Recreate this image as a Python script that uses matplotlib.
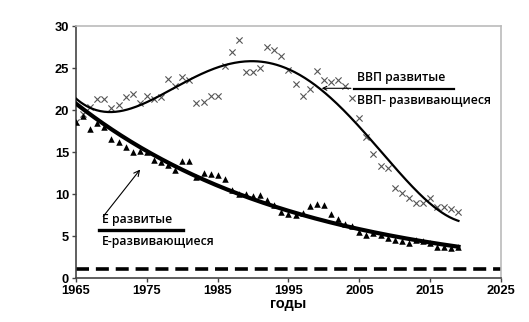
import numpy as np
import matplotlib
matplotlib.use("Agg")
import matplotlib.pyplot as plt

years = np.arange(1965, 2020)

# ratio of GDP: developed / developing
gdp_ratio = [18.6, 19.5, 20.4, 21.3, 21.3, 20.3, 20.6, 21.6, 21.9, 20.8,
             21.7, 21.3, 21.6, 23.7, 22.9, 24.0, 23.6, 20.9, 21.0, 21.7,
             21.7, 25.2, 26.9, 28.3, 24.5, 24.5, 25.0, 27.5, 27.1, 26.5,
             24.8, 23.1, 21.7, 22.5, 24.7, 23.6, 23.4, 23.6, 22.9, 21.5,
             19.1, 16.8, 14.8, 13.3, 13.1, 10.8, 10.1, 9.6, 8.9, 8.9,
             9.6, 8.5, 8.5, 8.3, 7.9]

# ratio of energy consumption: developed / developing
e_ratio = [18.6, 19.3, 17.7, 18.5, 18.0, 16.6, 16.2, 15.6, 15.0, 15.2,
           15.0, 14.1, 13.8, 13.5, 12.9, 14.0, 13.9, 12.0, 12.5, 12.4,
           12.3, 11.8, 10.5, 10.0, 10.0, 9.8, 9.9, 9.3, 8.7, 7.9,
           7.6, 7.5, 7.8, 8.6, 8.8, 8.7, 7.6, 7.1, 6.4, 6.2,
           5.5, 5.2, 5.4, 5.1, 4.8, 4.5, 4.4, 4.2, 4.5, 4.4,
           4.2, 3.7, 3.7, 3.6, 3.7]

parity_level = 1.1
x_ticks = [1965, 1975, 1985, 1995, 2005, 2015, 2025]
y_ticks = [0, 5, 10, 15, 20, 25, 30]

fig = plt.figure(figsize=(5.29, 3.22), dpi=100)
ax = fig.add_axes([0.1437, 0.1357, 0.8033, 0.7833])

tick_font = dict(family="Liberation Sans", weight="bold", size=9.3)
note_font = dict(family="Open Sans", weight="semibold", size=8.8)

# scatter of yearly ratios
ax.scatter(years, gdp_ratio, marker="x", s=20, color="#555555", linewidths=0.8, zorder=3)
ax.scatter(years, e_ratio, marker="^", s=22, color="black", linewidths=0, zorder=3)

# 4th-order polynomial trend for GDP ratio
t = years - 1965
xs = np.linspace(0, 54, 300)
cg = np.polyfit(t, gdp_ratio, 4)
ax.plot(xs + 1965, np.polyval(cg, xs), color="black", lw=1.6, zorder=4)

# exponential trend for energy ratio
ce = np.polyfit(t, np.log(e_ratio), 1)
ax.plot(xs + 1965, np.exp(np.polyval(ce, xs)), color="black", lw=3.0, zorder=4)

# parity level
ax.axhline(parity_level, color="black", lw=2.6, dashes=(3.6, 1.9), zorder=2)

ax.set_xlim(1965, 2025)
ax.set_ylim(0, 30)
ax.set_xticks(x_ticks)
ax.set_yticks(y_ticks)
ax.set_xticklabels([str(v) for v in x_ticks], **tick_font)
ax.set_yticklabels([str(v) for v in y_ticks], **tick_font)
ax.tick_params(axis="both", length=3, width=1, color="#444444", pad=2)
ax.set_xlabel("годы", fontdict=dict(family="Liberation Sans", weight="bold", size=10.5), labelpad=0)

for side in ("left", "bottom"):
    ax.spines[side].set_color("#444444")
    ax.spines[side].set_linewidth(1.2)
for side in ("top", "right"):
    ax.spines[side].set_color("#bbbbbb")
    ax.spines[side].set_linewidth(1.2)

# GDP label as a fraction with pointer to the trend line
ax.annotate("", xy=(1999.3, 22.6), xytext=(2004.2, 22.6),
            arrowprops=dict(arrowstyle="->", color="black", lw=0.8, mutation_scale=7))
ax.plot([2004.2, 2018.3], [22.5, 22.5], color="black", lw=1.6, clip_on=False)
ax.text(2004.7, 23.1, "ВВП развитые", ha="left", va="bottom", **note_font)
ax.text(2004.7, 21.9, "ВВП- развивающиеся", ha="left", va="top", **note_font)

# energy label as a fraction with pointer to the trend line
ax.annotate("", xy=(1974.3, 13.2), xytext=(1968.6, 7.1),
            arrowprops=dict(arrowstyle="->", color="black", lw=0.8, mutation_scale=10))
ax.plot([1968.3, 1980.1], [5.7, 5.7], color="black", lw=2.4)
ax.text(1968.7, 6.2, "Е развитые", ha="left", va="bottom", **note_font)
ax.text(1968.7, 5.1, "Е-развивающиеся", ha="left", va="top", **note_font)

fig.savefig("out.png", dpi=100)
